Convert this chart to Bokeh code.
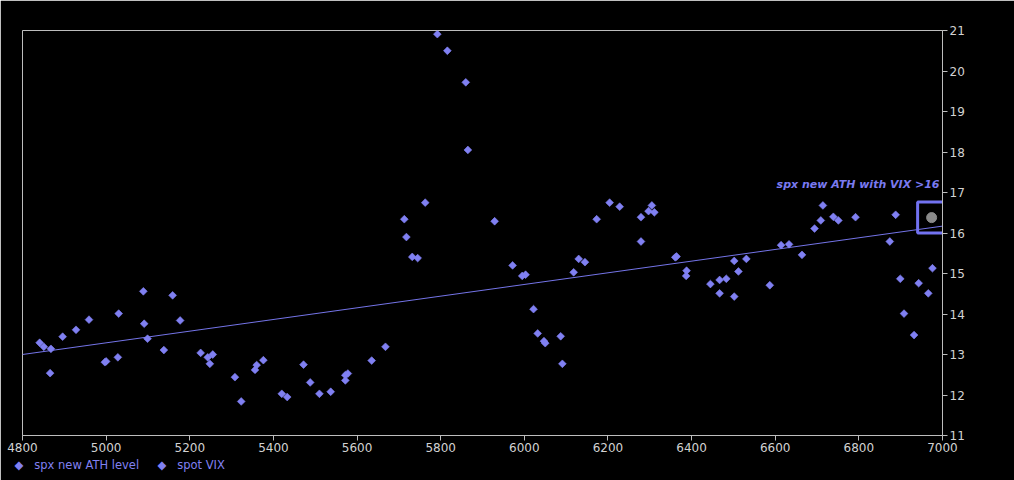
import math
from bokeh.plotting import figure
from bokeh.models import Range1d, FixedTicker, ColumnDataSource, Label, Title
from bokeh.embed import file_html
from bokeh.resources import INLINE

# ---- data ----
spx = [4841, 4851, 4866, 4868, 4896, 4928, 4959, 4997, 5000, 5028,
       5030, 5089, 5091, 5099, 5138, 5159, 5177, 5226, 5243, 5248,
       5255, 5308, 5323, 5356, 5360, 5376, 5420, 5433, 5472, 5488,
       5510, 5537, 5572, 5572, 5578, 5635, 5668, 5713, 5718, 5732,
       5745, 5763, 5792, 5816, 5860, 5865, 5929, 5972, 5995, 6003,
       6022, 6032, 6047, 6050, 6087, 6091, 6118, 6130, 6145, 6173,
       6204, 6228, 6279, 6279, 6297, 6305, 6311, 6361, 6364, 6387,
       6388, 6445, 6467, 6467, 6483, 6502, 6502, 6512, 6531, 6587,
       6614, 6633, 6664, 6694, 6709, 6714, 6739, 6751, 6792, 6874,
       6888, 6899, 6908, 6932, 6943, 6966, 6976]
vix = [13.29, 13.19, 12.54, 13.14, 13.44, 13.61, 13.86, 12.81, 12.83, 12.93,
       14.01, 14.56, 13.76, 13.39, 13.11, 14.46, 13.84, 13.04, 12.93, 12.77,
       13.00, 12.44, 11.84, 12.62, 12.74, 12.86, 12.03, 11.95, 12.75, 12.31,
       12.03, 12.08, 12.49, 12.36, 12.53, 12.85, 13.19, 16.34, 15.90, 15.41,
       15.38, 16.75, 20.91, 20.50, 19.72, 18.05, 16.29, 15.20, 14.94, 14.97,
       14.12, 13.52, 13.33, 13.28, 13.45, 12.77, 15.03, 15.36, 15.28, 16.34,
       16.75, 16.65, 16.39, 15.79, 16.54, 16.68, 16.51, 15.40, 15.42, 14.94,
       15.07, 14.74, 14.84, 14.51, 14.87, 15.31, 14.43, 15.05, 15.36, 14.71,
       15.70, 15.72, 15.46, 16.11, 16.31, 16.68, 16.40, 16.31, 16.39, 15.79,
       16.45, 14.87, 14.01, 13.48, 14.76, 14.51, 15.13]

hl_spx = [6974]
hl_vix = [16.38]

trend_spx = [4800, 7000]
trend_vix = [13.0, 16.17]

x_min, x_max = 4800, 7000
y_min, y_max = 11, 21
x_ticks = [4800, 5000, 5200, 5400, 5600, 5800, 6000, 6200, 6400, 6600, 6800, 7000]
y_ticks = [11, 12, 13, 14, 15, 16, 17, 18, 19, 20, 21]

series_names = ["spx new ATH level", "spot VIX"]
annotation_text = "spx new ATH with VIX >16"

# ---- styling ----
PT = "#8080f2"
AX = "#bdbdbd"
LBL = "#d2d2d2"
FONT = "DejaVu Sans"

p = figure(width=1014, height=480, output_backend="svg", toolbar_location=None,
           x_range=Range1d(x_min, x_max), y_range=Range1d(y_min, y_max),
           y_axis_location="right",
           min_border_left=22, min_border_top=30, min_border_right=72, min_border_bottom=45,
           background_fill_color="black", border_fill_color="black")
p.grid.visible = False
p.outline_line_color = AX
p.outline_line_width = 1

for ax, ticks in ((p.xaxis, x_ticks), (p.yaxis, y_ticks)):
    ax.ticker = FixedTicker(ticks=ticks)
    ax.axis_line_color = AX
    ax.major_tick_line_color = AX
    ax.minor_tick_line_color = None
    ax.major_tick_out = 5
    ax.major_tick_in = 0
    ax.major_label_text_color = LBL
    ax.major_label_text_font = FONT
    ax.major_label_text_font_size = "12px"
    ax.major_label_standoff = 2

# trend line
p.line(trend_spx, trend_vix, line_color="#7474e8", line_width=1)

# scatter
src = ColumnDataSource(dict(x=spx, y=vix))
r = p.scatter("x", "y", source=src, marker="square", angle=math.pi / 4, size=5.5,
              fill_color=PT, line_color=PT, line_width=0.6)

# highlighted point + box
p.scatter(hl_spx, hl_vix, marker="circle", size=10, fill_color="#8a8a8a", line_color="#8a8a8a")
p.rect(hl_spx, hl_vix, width=28, height=31, width_units="screen", height_units="screen",
       fill_alpha=0, line_color="#7272f0", line_width=3)

# annotation (kept inside the frame so it is not clipped)
lab = Label(x=917, y=251, x_units="screen", y_units="screen", text=annotation_text,
            text_align="right", text_baseline="middle",
            text_font=FONT, text_font_size="11px", text_font_style="bold italic",
            text_color="#7a7af0")
p.add_layout(lab)

# series key under the axis (text with diamond markers)
NB = "\u00a0"
key_text = ("\u25c6" + NB * 3 + series_names[0] + NB * 5 + "\u25c6" + NB * 3 + series_names[1])
key = Title(text=key_text, align="left", offset=-8, standoff=3,
            text_color=PT, text_font=FONT, text_font_size="11.5px", text_font_style="normal")
p.add_layout(key, "below")

open("out.html", "w").write(file_html(p, INLINE))
